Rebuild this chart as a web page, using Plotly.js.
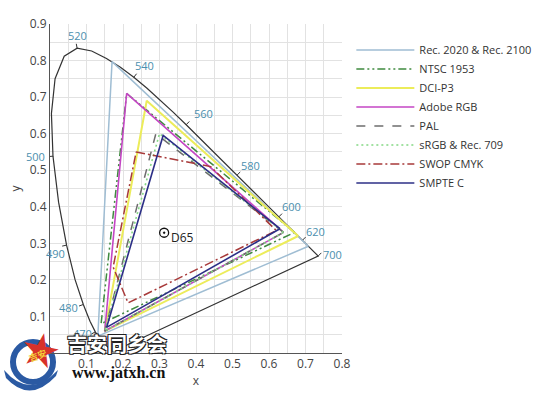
<!DOCTYPE html>
<html><head><meta charset="utf-8">
<script src="https://cdn.plot.ly/plotly-3.0.1.min.js"></script>
<style>html,body{margin:0;padding:0;background:#fff;}#chart{width:550px;height:394px;}</style>
</head><body><div id="chart"></div>
<script>
// CIE 1931 spectral locus, 380..700 nm step 5
const locusNm = [380,385,390,395,400,405,410,415,420,425,430,435,440,445,450,455,460,465,470,475,480,485,490,495,500,505,510,515,520,525,530,535,540,545,550,555,560,565,570,575,580,585,590,595,600,605,610,615,620,625,630,635,640,645,650,655,660,665,670,675,680,685,690,695,700];
const locusX = [0.1741,0.1740,0.1738,0.1736,0.1733,0.1730,0.1726,0.1721,0.1714,0.1703,0.1689,0.1669,0.1644,0.1611,0.1566,0.1510,0.1440,0.1355,0.1241,0.1096,0.0913,0.0687,0.0454,0.0235,0.0082,0.0039,0.0139,0.0389,0.0743,0.1142,0.1547,0.1929,0.2296,0.2658,0.3016,0.3373,0.3731,0.4087,0.4441,0.4788,0.5125,0.5448,0.5752,0.6029,0.6270,0.6482,0.6658,0.6801,0.6915,0.7006,0.7079,0.7140,0.7190,0.7230,0.7260,0.7283,0.7300,0.7311,0.7320,0.7327,0.7334,0.7340,0.7344,0.7346,0.7347];
const locusY = [0.0050,0.0050,0.0049,0.0049,0.0048,0.0048,0.0048,0.0048,0.0051,0.0058,0.0069,0.0086,0.0109,0.0138,0.0177,0.0227,0.0297,0.0399,0.0578,0.0868,0.1327,0.2007,0.2950,0.4127,0.5384,0.6548,0.7502,0.8120,0.8338,0.8262,0.8059,0.7816,0.7543,0.7243,0.6923,0.6589,0.6245,0.5896,0.5547,0.5202,0.4866,0.4544,0.4242,0.3965,0.3725,0.3514,0.3340,0.3197,0.3083,0.2993,0.2920,0.2859,0.2809,0.2770,0.2740,0.2717,0.2700,0.2689,0.2680,0.2673,0.2666,0.2660,0.2656,0.2654,0.2653];

// labelled wavelengths and label offsets (px)
const labelNm = [470,480,490,500,520,540,560,580,600,620,700];
const labelDx = [-13,-15,-11,-17,0,11,17,13,13,13,14];
const labelDy = [2,3,8,0,-13,-12,-11,-10,-10,-9,-2];

// gamut names and primaries (R, G, B ...)
const gamutNames = ["Rec. 2020 & Rec. 2100","NTSC 1953","DCI-P3","Adobe RGB","PAL","sRGB & Rec. 709","SWOP CMYK","SMPTE C"];
const rec2020X = [0.708,0.170,0.131], rec2020Y = [0.292,0.797,0.046];
const ntscX = [0.67,0.21,0.14], ntscY = [0.33,0.71,0.08];
const dciX = [0.680,0.265,0.150], dciY = [0.320,0.690,0.060];
const adobeX = [0.64,0.21,0.15], adobeY = [0.33,0.71,0.06];
const palX = [0.64,0.29,0.15], palY = [0.33,0.60,0.06];
const srgbX = [0.64,0.30,0.15], srgbY = [0.33,0.60,0.06];
const swopX = [0.236,0.44,0.62,0.214,0.173], swopY = [0.55,0.51,0.335,0.137,0.235];
const smpteX = [0.630,0.310,0.155], smpteY = [0.340,0.595,0.070];

const gamutX = [rec2020X,ntscX,dciX,adobeX,palX,srgbX,swopX,smpteX];
const gamutY = [rec2020Y,ntscY,dciY,adobeY,palY,srgbY,swopY,smpteY];
const gamutColor = ["#9fbdd3","#3f8a3f","#ecec5a","#c446c4","#6d6d6d","#84d884","#a83a3a","#2c2f86"];
const gamutDash = ["solid","8px,3px,2px,3px,2px,3px","solid","solid","9px,9px","2px,3px","9px,3px,2px,3px","solid"];
const gamutWidth = [1.5,1.5,2,1.6,1.5,1.6,1.5,1.6];

const whiteName = "D65", whiteX = [0.3127], whiteY = [0.3290];

const traces = [];
traces.push({x: locusX.concat([locusX[0]]), y: locusY.concat([locusY[0]]), mode:"lines",
  line:{color:"#333",width:1.2}, showlegend:false, hoverinfo:"skip"});

const sx = 365, sy = 365.6, tl = 4.5;
const tx = [], ty = [];
labelNm.forEach(nm => {
  const i = locusNm.indexOf(nm);
  const a = Math.max(0,i-1), b = Math.min(locusNm.length-1,i+1);
  let dx = (locusX[b]-locusX[a])*sx, dy = (locusY[b]-locusY[a])*sy;
  const L = Math.hypot(dx,dy); dx/=L; dy/=L;
  const nx = -dy, ny = dx;
  tx.push(locusX[i], locusX[i]+nx*tl/sx, null);
  ty.push(locusY[i], locusY[i]+ny*tl/sy, null);
});
traces.push({x:tx,y:ty,mode:"lines",line:{color:"#333",width:1},showlegend:false,hoverinfo:"skip"});

gamutNames.forEach((n,k) => {
  traces.push({x: gamutX[k].concat([gamutX[k][0]]), y: gamutY[k].concat([gamutY[k][0]]),
    mode:"lines", name:n, line:{color:gamutColor[k], width:gamutWidth[k], dash:gamutDash[k]}});
});

traces.push({x:whiteX,y:whiteY,mode:"markers",showlegend:false,
  marker:{symbol:"circle-dot",size:9,color:"rgba(0,0,0,0)",line:{color:"#111",width:1.3}}});

// pixel -> paper helpers for the watermark
const PX = p => +((p-50)/292).toFixed(4), PY = p => +((353-p)/329).toFixed(4);

const ann = labelNm.map((nm,j) => {
  const i = locusNm.indexOf(nm);
  return {x:locusX[i], y:locusY[i], text:String(nm), showarrow:false,
    xshift:labelDx[j], yshift:-labelDy[j], font:{size:11,color:"#4b8fae",family:"Open Sans"}};
});
ann.push({x:whiteX[0],y:whiteY[0],text:whiteName,showarrow:false,xshift:18,yshift:-5,
  font:{size:12,color:"#222",family:"Open Sans"}});
// watermark logo + text
ann.push({xref:"paper",yref:"paper",x:PX(40),y:PY(350),xanchor:"center",yanchor:"middle",text:"★",showarrow:false,
  textangle:12,font:{size:46,color:"#d8322a",family:"DejaVu Sans"}});
ann.push({xref:"paper",yref:"paper",x:PX(38),y:PY(356),xanchor:"center",yanchor:"middle",text:"吉安",showarrow:false,
  textangle:-20,font:{size:9,color:"#f3d23a",family:"Noto Sans CJK SC",weight:700}});
ann.push({xref:"paper",yref:"paper",x:PX(117),y:PY(344),xanchor:"center",yanchor:"middle",text:"吉安同乡会",showarrow:false,
  font:{size:20,color:"#ffffff",family:"Noto Sans CJK SC",weight:700,
  shadow:"1px 1px 0 #222,-1px -1px 0 #222,1px -1px 0 #222,-1px 1px 0 #222"}});
ann.push({xref:"paper",yref:"paper",x:PX(118),y:PY(373),xanchor:"center",yanchor:"middle",text:"www.jatxh.cn",showarrow:false,
  font:{size:16,color:"#111",family:"Liberation Serif",weight:700}});

const layout = {
  width:550,height:394,
  margin:{l:50,r:208,t:24,b:41,autoexpand:false},
  paper_bgcolor:"#fff",plot_bgcolor:"#fff",
  font:{family:"Open Sans",color:"#444",size:12},
  xaxis:{range:[0,0.8],tickvals:[0.1,0.2,0.3,0.4,0.5,0.6,0.7,0.8],ticktext:["0.1","0.2","0.3","0.4","0.5","0.6","0.7","0.8"],
    showgrid:true,gridcolor:"#e2e2e2",gridwidth:1,zeroline:false,showline:true,linecolor:"#555",linewidth:1,
    minor:{dtick:0.05,tick0:0,showgrid:true,gridcolor:"#e2e2e2",gridwidth:1},
    tickfont:{size:12,color:"#444"},title:{text:"x",font:{size:12,color:"#444"},standoff:4}},
  yaxis:{range:[0,0.9],tickvals:[0.1,0.2,0.3,0.4,0.5,0.6,0.7,0.8,0.9],ticktext:["0.1","0.2","0.3","0.4","0.5","0.6","0.7","0.8","0.9"],
    showgrid:true,gridcolor:"#e2e2e2",gridwidth:1,zeroline:false,showline:true,linecolor:"#555",linewidth:1,
    minor:{dtick:0.05,tick0:0,showgrid:true,gridcolor:"#e2e2e2",gridwidth:1},
    tickfont:{size:12,color:"#444"},title:{text:"y",font:{size:12,color:"#444"},standoff:6}},
  showlegend:true,
  legend:{x:1.032,y:0.965,xanchor:"left",yanchor:"top",font:{size:11,color:"#333"},itemwidth:58,
    bgcolor:"rgba(0,0,0,0)",tracegroupgap:0},
  shapes:[
    {type:"path",xref:"paper",yref:"paper",layer:"below",fillcolor:"#2b5aa3",line:{width:0},
     path:`M${PX(4)},${PY(370)} Q${PX(30)},${PY(400)} ${PX(58)},${PY(370)} L${PX(56)},${PY(376)} Q${PX(30)},${PY(404)} ${PX(6)},${PY(378)} Z`},
    {type:"circle",xref:"paper",yref:"paper",layer:"below",x0:PX(13),x1:PX(53),y0:PY(382),y1:PY(342),
     line:{color:"#2b5aa3",width:6}}
  ],
  annotations:ann
};
Plotly.newPlot("chart",traces,layout,{displayModeBar:false,staticPlot:true});
</script></body></html>
